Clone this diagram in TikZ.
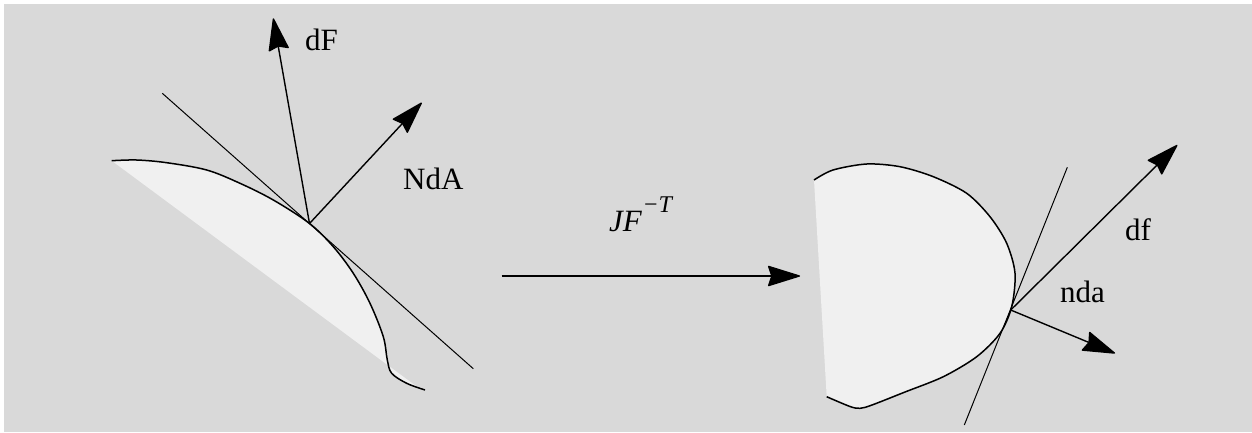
\documentclass[tikz,border=0pt]{standalone}
\usepackage{fontspec}
\setmainfont{Liberation Serif}
\usetikzlibrary{arrows.meta}
\begin{document}
\begin{tikzpicture}[x=1pt,y=-1pt,
  bg/.style={fill=bggray},
  shapefill/.style={fill=lightfill},
  outline/.style={line width=1.5pt},
  tangent/.style={line width=1pt},
  vec/.style={line width=1.4pt,-{Stealth[length=34pt,width=21pt,inset=3.5pt,round]}},
  lbl/.style={anchor=base west,inner sep=0pt,font=\fontsize{31}{36}\selectfont}]
\definecolor{bggray}{RGB}{217,217,217}
\definecolor{lightfill}{RGB}{240,240,240}
\useasboundingbox (0,0) rectangle (1252,432);
\fill[white] (0,0) rectangle (1252,432);
\fill[bg] (4,4) rectangle (1252,432);
% left shape
\fill[shapefill] plot[smooth,tension=0.55] coordinates {(111.7,160.7) (136.7,160) (166.7,162.7) (206.7,170) (240,183.3) (273.3,200) (309.3,223.3) (333.3,246.7) (353.3,273.3) (370,303.3) (383.3,336.7) (387.3,360) (391.7,373.3) (406.7,383.3) (425,390)} -- (420,389) -- cycle;
\draw[outline] plot[smooth,tension=0.55] coordinates {(111.7,160.7) (136.7,160) (166.7,162.7) (206.7,170) (240,183.3) (273.3,200) (309.3,223.3) (333.3,246.7) (353.3,273.3) (370,303.3) (383.3,336.7) (387.3,360) (391.7,373.3) (406.7,383.3) (425,390)};
\coordinate (P) at (309.5,223.5);
\coordinate (t1) at (162.3,93.3);
\coordinate (t2) at (473.3,368.7);
\coordinate (dFtip) at (273.3,18.3);
\coordinate (NdAtip) at (421.7,102.7);
\draw[tangent] (t1) -- (t2);
\draw[vec] (P) -- (dFtip);
\draw[vec] (P) -- (NdAtip);
\node[lbl] (dF) at (305,50) {dF};
\node[lbl] (NdA) at (403,189) {NdA};
% middle map arrow
\coordinate (m1) at (501.7,276);
\coordinate (m2) at (800,276);
\draw[vec] (m1) -- (m2);
\node[lbl] (JF) at (609,231) {\textit{JF}\kern2pt\raisebox{19pt}{\fontsize{24}{27}\selectfont −\kern1pt\textit{T}}};
% right shape
\fill[shapefill] plot[smooth,tension=0.5] coordinates {(814,180) (833,170) (866.7,164) (900,166.7) (933.3,176.7) (966.7,193.3) (990,216.7) (1006.7,243.3) (1015,273.3) (1011.7,306.7) (1000,333.3) (976.7,356.7) (943.3,376.7) (905,392) (872,405) (860,408.3) (850,406.5) (826.7,396.7)} -- cycle;
\draw[outline] plot[smooth,tension=0.5] coordinates {(814,180) (833,170) (866.7,164) (900,166.7) (933.3,176.7) (966.7,193.3) (990,216.7) (1006.7,243.3) (1015,273.3) (1011.7,306.7) (1000,333.3) (976.7,356.7) (943.3,376.7) (905,392) (872,405) (860,408.3) (850,406.5) (826.7,396.7)};
\coordinate (Q) at (1010.7,310);
\coordinate (s1) at (1067.3,167.3);
\coordinate (s2) at (964.3,425);
\coordinate (dftip) at (1177.3,145);
\coordinate (ndatip) at (1115,353.3);
\draw[tangent] (s1) -- (s2);
\draw[vec] (Q) -- (dftip);
\draw[vec] (Q) -- (ndatip);
\node[lbl] (df) at (1125,240) {df};
\node[lbl] (nda) at (1060,302.7) {nda};
\end{tikzpicture}
\end{document}
